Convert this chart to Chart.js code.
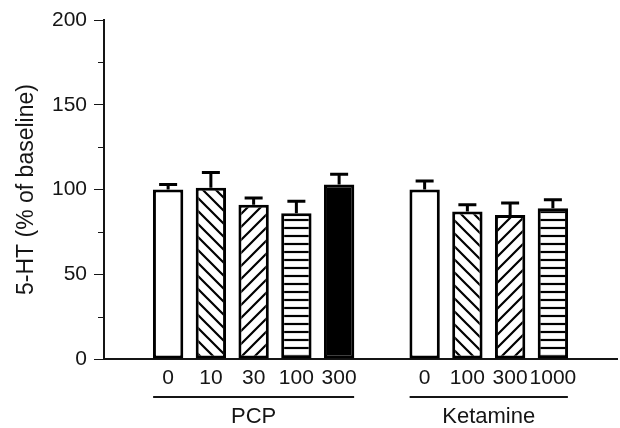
<!DOCTYPE html>
<html>
<head>
<meta charset="utf-8">
<script src="https://cdn.jsdelivr.net/npm/chart.js@4"></script>
<style>
  html, body { margin: 0; padding: 0; background: #fff; }
  #wrap { width: 620px; height: 428px; position: relative; }
</style>
</head>
<body>
<div id="wrap"><canvas id="chart"></canvas></div>
<script>
// dose labels, empty strings are spacer slots
const doseLabels = ["", "0", "10", "30", "100", "300", "", "0", "100", "300", "1000", ""];
const meanValues = [null, 100, 101, 91, 86, 103, null, 100, 87, 85, 89, null];
const errValues = [null, 3, 9, 4, 7, 6, null, 5, 4, 7, 5, null];
const groupNames = ["PCP", "Ketamine"];
const groupFirst = [1, 7];
const groupLast = [5, 10];
const yTicks = [0, 50, 100, 150, 200];
const yMinorTicks = [25, 75, 125, 175];

// fill style per bar
const fillKinds = ["open", "open", "back", "fwd", "horiz", "solid", "open", "open", "back", "fwd", "horiz", "open"];

const FONT = "'Liberation Sans', Arial, Helvetica, sans-serif";
const INK = "#151515";

function makePattern(kind) {
  if (kind === "open") return "#fff";
  if (kind === "solid") return "#000";
  const c = document.createElement("canvas");
  const s = kind === "horiz" ? 8 : 13;
  c.width = s; c.height = s;
  const g = c.getContext("2d");
  g.fillStyle = "#fff";
  g.fillRect(0, 0, s, s);
  g.strokeStyle = "#000";
  g.lineWidth = 2.2;
  g.beginPath();
  if (kind === "horiz") {
    g.moveTo(0, s / 2); g.lineTo(s, s / 2);
  } else if (kind === "back") {
    g.moveTo(-2, -2); g.lineTo(s + 2, s + 2);
    g.moveTo(-2, s - 2); g.lineTo(2, s + 2);
    g.moveTo(s - 2, -2); g.lineTo(s + 2, 2);
  } else {
    g.moveTo(-2, s + 2); g.lineTo(s + 2, -2);
    g.moveTo(-2, 2); g.lineTo(2, -2);
    g.moveTo(s - 2, s + 2); g.lineTo(s + 2, s - 2);
  }
  g.stroke();
  return g.createPattern(c, "repeat");
}

const errorBars = {
  id: "errorBars",
  afterDatasetsDraw(chart) {
    const ctx = chart.ctx;
    const y = chart.scales.y;
    const meta = chart.getDatasetMeta(0);
    ctx.save();
    ctx.strokeStyle = "#000";
    ctx.lineWidth = 3;
    meta.data.forEach((bar, i) => {
      if (meanValues[i] == null) return;
      const top = y.getPixelForValue(meanValues[i]);
      const hi = y.getPixelForValue(meanValues[i] + errValues[i]);
      ctx.beginPath();
      ctx.moveTo(bar.x, top);
      ctx.lineTo(bar.x, hi);
      ctx.moveTo(bar.x - 9, hi);
      ctx.lineTo(bar.x + 9, hi);
      ctx.stroke();
    });
    ctx.restore();
  }
};

const extras = {
  id: "extras",
  afterDraw(chart) {
    const ctx = chart.ctx;
    const x = chart.scales.x;
    const y = chart.scales.y;
    const left = chart.chartArea.left;
    ctx.save();
    // minor ticks on y axis
    ctx.strokeStyle = INK;
    ctx.lineWidth = 1;
    yMinorTicks.forEach(v => {
      const py = Math.round(y.getPixelForValue(v)) + 0.5;
      ctx.beginPath();
      ctx.moveTo(left - 6, py);
      ctx.lineTo(left, py);
      ctx.stroke();
    });
    // group underlines and names
    const half = 15;
    ctx.fillStyle = INK;
    ctx.font = "22px " + FONT;
    ctx.textAlign = "center";
    ctx.textBaseline = "middle";
    groupNames.forEach((name, k) => {
      const x0 = x.getPixelForValue(groupFirst[k]) - half;
      const x1 = x.getPixelForValue(groupLast[k]) + half;
      ctx.lineWidth = 2;
      ctx.beginPath();
      ctx.moveTo(x0, 397);
      ctx.lineTo(x1, 397);
      ctx.stroke();
      ctx.fillText(name, (x0 + x1) / 2, 417);
    });
    ctx.restore();
  }
};

new Chart(document.getElementById("chart"), {
  type: "bar",
  data: {
    labels: doseLabels,
    datasets: [{
      data: meanValues,
      backgroundColor: fillKinds.map(makePattern),
      borderColor: "#000",
      borderWidth: 3,
      borderSkipped: false,
      categoryPercentage: 1,
      barPercentage: 0.71
    }]
  },
  options: {
    responsive: true,
    maintainAspectRatio: false,
    animation: false,
    layout: { padding: { left: 0, right: 3, top: 20, bottom: 0 } },
    plugins: { legend: { display: false }, tooltip: { enabled: false } },
    scales: {
      x: {
        grid: { display: false, drawTicks: false },
        border: { display: true, color: INK, width: 2 },
        ticks: { color: INK, font: { family: FONT, size: 21 }, padding: 7, maxRotation: 0, autoSkip: false },
        afterFit(scale) { scale.height = 69; }
      },
      y: {
        min: 0,
        max: 200,
        afterBuildTicks(scale) { scale.ticks = yTicks.map(v => ({ value: v })); },
        grid: { drawOnChartArea: false, drawTicks: true, tickLength: 10, color: INK, tickColor: INK },
        border: { display: true, color: INK, width: 2 },
        ticks: { color: INK, font: { family: FONT, size: 21 }, padding: 7 },
        title: {
          display: true,
          text: "5-HT (% of baseline)",
          color: INK,
          font: { family: FONT, size: 23 },
          padding: { top: 13, bottom: 0 }
        },
        afterFit(scale) { scale.width = 104; }
      }
    }
  },
  plugins: [errorBars, extras]
});
</script>
</body>
</html>
